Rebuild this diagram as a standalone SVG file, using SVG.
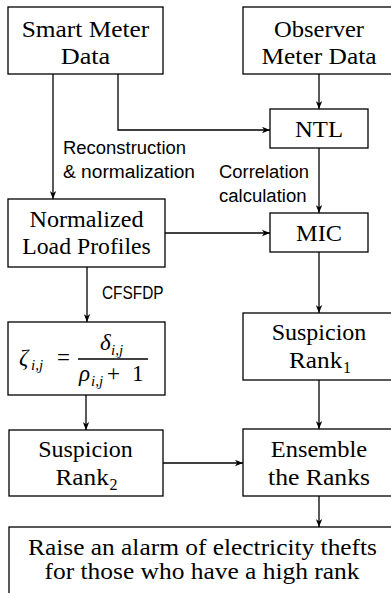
<svg xmlns="http://www.w3.org/2000/svg" width="391" height="593" viewBox="0 0 391 593">
<style>
.box{fill:#fff;stroke:#000;stroke-width:1.3}
.t,.sub,.m,.mi,.mu{font-family:'Liberation Serif','Times New Roman',Tinos,'Nimbus Roman','FreeSerif','DejaVu Serif','Noto Serif',Georgia,serif;fill:#000}
.t{font-size:24px}
.tc{text-anchor:middle}
.sub{font-size:16px}
.m{font-size:23px;font-style:italic}
.mi{font-size:15px;font-style:italic}
.mu{font-size:23px}
.s{font-family:"Liberation Sans",Arial,sans-serif;font-size:18px;fill:#000}
.c{fill:none;stroke:#000;stroke-width:1.3}
</style>
<defs>
<marker id="ah" viewBox="0 0 8 7" refX="8" refY="3.5" markerWidth="8" markerHeight="7" markerUnits="userSpaceOnUse" orient="auto">
<path d="M0,0.3 L8,3.5 L0,6.7 L2.2,3.5 z" fill="#000"/>
</marker>
</defs>

<g id="connectors">
<path class="c" d="M53,74 V199" marker-end="url(#ah)"/>
<path class="c" d="M118,74 V130 H270" marker-end="url(#ah)"/>
<path class="c" d="M319,74 V109" marker-end="url(#ah)"/>
<path class="c" d="M319,148 V213" marker-end="url(#ah)"/>
<path class="c" d="M165,233 H270" marker-end="url(#ah)"/>
<path class="c" d="M87,267 V322" marker-end="url(#ah)"/>
<path class="c" d="M319,252 V313" marker-end="url(#ah)"/>
<path class="c" d="M86,395 V430" marker-end="url(#ah)"/>
<path class="c" d="M319,380 V429" marker-end="url(#ah)"/>
<path class="c" d="M163,463 H243" marker-end="url(#ah)"/>
<path class="c" d="M319,496 V527" marker-end="url(#ah)"/>
<text class="s" x="63" y="154" textLength="123" lengthAdjust="spacingAndGlyphs">Reconstruction</text>
<text class="s" x="63" y="178" textLength="132" lengthAdjust="spacingAndGlyphs">&amp; normalization</text>
<text class="s" x="219" y="178" textLength="90" lengthAdjust="spacingAndGlyphs">Correlation</text>
<text class="s" x="219" y="202" textLength="87.5" lengthAdjust="spacingAndGlyphs">calculation</text>
<text class="s" x="102" y="299" textLength="61.5" lengthAdjust="spacingAndGlyphs">CFSFDP</text>
</g>

<g id="smart-meter">
<rect class="box" x="8" y="7" width="155" height="67"/>
<text class="t tc" x="85.5" y="37" textLength="127.7" lengthAdjust="spacingAndGlyphs">Smart Meter</text>
<text class="t tc" x="85.5" y="64" textLength="49.5" lengthAdjust="spacingAndGlyphs">Data</text>
</g>

<g id="observer">
<rect class="box" x="243" y="7" width="152" height="67"/>
<text class="t tc" x="319" y="37" textLength="90" lengthAdjust="spacingAndGlyphs">Observer</text>
<text class="t tc" x="319" y="64" textLength="115" lengthAdjust="spacingAndGlyphs">Meter Data</text>
</g>

<g id="ntl">
<rect class="box" x="270" y="109" width="98" height="39"/>
<text class="t tc" x="319" y="137" textLength="48" lengthAdjust="spacingAndGlyphs">NTL</text>
</g>

<g id="normalized">
<rect class="box" x="8" y="199" width="157" height="68"/>
<text class="t tc" x="86.5" y="227" textLength="114" lengthAdjust="spacingAndGlyphs">Normalized</text>
<text class="t tc" x="86.5" y="254" textLength="128.5" lengthAdjust="spacingAndGlyphs">Load Profiles</text>
</g>

<g id="mic">
<rect class="box" x="270" y="213" width="98" height="39"/>
<text class="t tc" x="319" y="241" textLength="46" lengthAdjust="spacingAndGlyphs">MIC</text>
</g>

<g id="formula">
<rect class="box" x="8" y="322" width="157" height="73"/>
<text class="m" x="19" y="365">ζ</text>
<text class="mi" x="31" y="370">i,j</text>
<text class="mu" x="57" y="365">=</text>
<line x1="78" y1="359" x2="148" y2="359" stroke="#000" stroke-width="1.5"/>
<text class="m" x="100" y="350">δ</text>
<text class="mi" x="111" y="355">i,j</text>
<text class="m" x="79" y="381">ρ</text>
<text class="mi" x="91" y="386">i,j</text>
<text class="mu" x="107" y="381">+</text>
<text class="mu" x="132" y="381">1</text>
</g>

<g id="rank1">
<rect class="box" x="243" y="313" width="152" height="67"/>
<text class="t tc" x="319" y="340" textLength="94.7" lengthAdjust="spacingAndGlyphs">Suspicion</text>
<text class="t" x="289" y="368" textLength="53.4" lengthAdjust="spacingAndGlyphs">Rank</text>
<text class="sub" x="343" y="373">1</text>
</g>

<g id="rank2">
<rect class="box" x="9" y="430" width="154" height="66"/>
<text class="t tc" x="85.5" y="457" textLength="94.7" lengthAdjust="spacingAndGlyphs">Suspicion</text>
<text class="t" x="55.5" y="485" textLength="53.4" lengthAdjust="spacingAndGlyphs">Rank</text>
<text class="sub" x="109.5" y="490">2</text>
</g>

<g id="ensemble">
<rect class="box" x="243" y="429" width="152" height="67"/>
<text class="t tc" x="319" y="457" textLength="96.3" lengthAdjust="spacingAndGlyphs">Ensemble</text>
<text class="t tc" x="319" y="485" textLength="102" lengthAdjust="spacingAndGlyphs">the Ranks</text>
</g>

<g id="alarm">
<rect class="box" x="9" y="527" width="387" height="80"/>
<text class="t tc" x="202.5" y="555" font-size="23" textLength="349" lengthAdjust="spacingAndGlyphs">Raise an alarm of electricity thefts</text>
<text class="t tc" x="202" y="578.5" font-size="23" textLength="315" lengthAdjust="spacingAndGlyphs">for those who have a high rank</text>
</g>
</svg>
